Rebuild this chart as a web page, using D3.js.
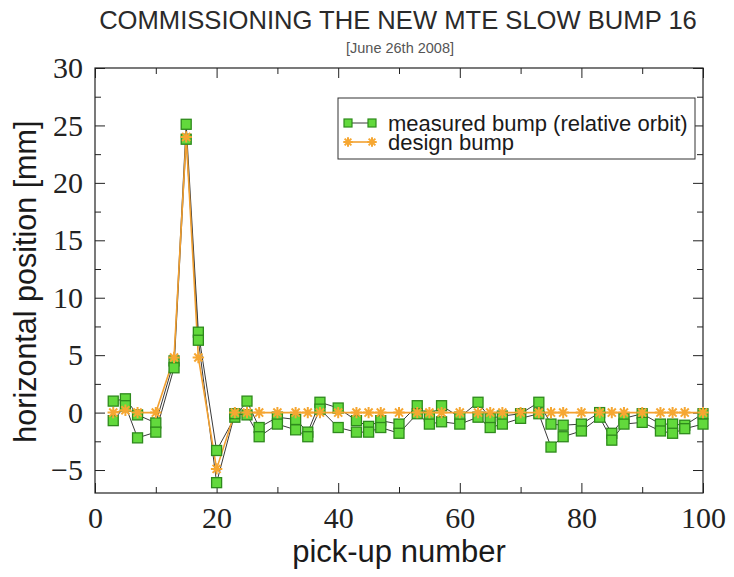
<!DOCTYPE html>
<html>
<head>
<meta charset="utf-8">
<script src="https://cdn.jsdelivr.net/npm/d3@7"></script>
<style>
  body { margin: 0; background: #fff; }
  svg { display: block; }
  .tick-label { font-family: "Liberation Serif", "Times New Roman", serif; font-size: 30px; fill: #222; }
</style>
</head>
<body>
<div id="chart"></div>
<script>
// pick-up numbers where beam position monitors sit
const pickups = [3, 5, 7, 10, 13, 15, 17, 20, 23, 25, 27, 30, 33, 35, 37, 40, 43, 45, 47, 50,
                 53, 55, 57, 60, 63, 65, 67, 70, 73, 75, 77, 80, 83, 85, 87, 90, 93, 95, 97, 100];

// two acquisitions of the measured bump (relative orbit), mm
const measuredRun1 = [1.0, 1.2, -0.2, -0.9, 4.5, 25.1, 7.0, -3.3, -0.4, 1.0,
                      -1.3, -0.4, -0.6, -1.7, 0.9, 0.4, -0.7, -1.2, -0.7, -1.0,
                      0.6, -0.3, 0.6, -0.4, 0.9, -0.5, -0.3, -0.1, 0.9, -1.0,
                      -1.1, -1.0, 0.0, -1.8, -0.5, -0.1, -1.0, -1.0, -1.1, -0.1];
const measuredRun2 = [-0.7, 0.6, -2.2, -1.7, 3.9, 23.8, 6.3, -6.1, -0.1, -0.2,
                      -2.1, -1.0, -1.5, -2.1, 0.3, -1.3, -1.7, -1.7, -1.3, -1.8,
                      -0.1, -1.0, -0.8, -1.0, -0.4, -1.3, -1.0, -0.5, -0.1, -3.0,
                      -2.1, -1.6, -0.4, -2.4, -1.0, -0.85, -1.6, -1.8, -1.4, -1.0];

// design bump, mm
const designBump = [0, 0.2, 0, 0, 4.8, 24.0, 4.8, -4.9, 0, 0,
                    0, 0, 0, 0, 0, 0, 0, 0, 0, 0,
                    0, 0, 0, 0, 0, 0, 0, 0, 0, 0,
                    0, 0, 0, 0, 0, 0, 0, 0, 0, 0];

const xMajorTicks = [0, 20, 40, 60, 80, 100];
const xMinorTicks = [10, 30, 50, 70, 90];
const yMajorTicks = [-5, 0, 5, 10, 15, 20, 25, 30];
const yMinorTicks = [-2.5, 2.5, 7.5, 12.5, 17.5, 22.5, 27.5];

const legendLabels = ['measured bump (relative orbit)', 'design bump'];

const W = 734, H = 577;
const margin = { top: 68, right: 31, bottom: 84, left: 95 };
const width = W - margin.left - margin.right;
const height = H - margin.top - margin.bottom;

const svg = d3.select('#chart').append('svg')
    .attr('width', W)
    .attr('height', H);

const g = svg.append('g')
    .attr('transform', `translate(${margin.left},${margin.top})`);

const x = d3.scaleLinear().domain([0, 100]).range([0, width]);
const y = d3.scaleLinear().domain([-7, 30]).range([height, 0]);

// Title
svg.append('text')
    .attr('x', 398).attr('y', 29)
    .attr('text-anchor', 'middle')
    .style('font-family', '"Liberation Sans", Arial, sans-serif')
    .style('font-size', '25.6px')
    .style('fill', '#2a2a2a')
    .text('COMMISSIONING THE NEW MTE SLOW BUMP 16');

svg.append('text')
    .attr('x', 400).attr('y', 53)
    .attr('text-anchor', 'middle')
    .style('font-family', '"Liberation Sans", Arial, sans-serif')
    .style('font-size', '14.5px')
    .style('fill', '#555')
    .text('[June 26th 2008]');

// Axes, ticks pointing inward on all four sides
function styleAxis(sel, labels) {
    sel.select('.domain').remove();
    sel.selectAll('line').attr('stroke', '#222');
    if (!labels) sel.selectAll('text').remove();
    else sel.selectAll('text').attr('class', 'tick-label');
}

g.append('g').attr('transform', `translate(0,${height})`)
    .call(d3.axisBottom(x).tickValues(xMajorTicks).tickSize(-10).tickPadding(14).tickFormat(d3.format('d')))
    .call(s => styleAxis(s, true));
g.append('g').attr('transform', `translate(0,${height})`)
    .call(d3.axisBottom(x).tickValues(xMinorTicks).tickSize(-6))
    .call(s => styleAxis(s, false));
g.append('g')
    .call(d3.axisTop(x).tickValues(xMajorTicks).tickSize(-10))
    .call(s => styleAxis(s, false));
g.append('g')
    .call(d3.axisTop(x).tickValues(xMinorTicks).tickSize(-6))
    .call(s => styleAxis(s, false));

g.append('g')
    .call(d3.axisLeft(y).tickValues(yMajorTicks).tickSize(-10).tickPadding(12).tickFormat(d3.format('d')))
    .call(s => styleAxis(s, true));
g.append('g')
    .call(d3.axisLeft(y).tickValues(yMinorTicks).tickSize(-6))
    .call(s => styleAxis(s, false));
g.append('g').attr('transform', `translate(${width},0)`)
    .call(d3.axisRight(y).tickValues(yMajorTicks).tickSize(-10))
    .call(s => styleAxis(s, false));
g.append('g').attr('transform', `translate(${width},0)`)
    .call(d3.axisRight(y).tickValues(yMinorTicks).tickSize(-6))
    .call(s => styleAxis(s, false));

// Frame
g.append('rect')
    .attr('width', width).attr('height', height)
    .attr('fill', 'none').attr('stroke', '#222').attr('stroke-width', 1.2);

// Axis labels
g.append('text')
    .attr('x', x(50)).attr('y', height + 69)
    .attr('text-anchor', 'middle')
    .style('font-family', '"Liberation Sans", Arial, sans-serif')
    .style('font-size', '31px')
    .style('fill', '#1a1a1a')
    .text('pick-up number');

g.append('text')
    .attr('transform', 'rotate(-90)')
    .attr('x', -(y(11.4))).attr('y', -59)
    .attr('text-anchor', 'middle')
    .style('font-family', '"Liberation Sans", Arial, sans-serif')
    .style('font-size', '30.5px')
    .style('fill', '#1a1a1a')
    .text('horizontal position [mm]');

// Asterisk marker for the design bump
const asterisk = {
    draw(ctx, size) {
        const r = Math.sqrt(size) / 2;
        for (let k = 0; k < 4; k++) {
            const a = k * Math.PI / 4;
            ctx.moveTo(-r * Math.cos(a), -r * Math.sin(a));
            ctx.lineTo(r * Math.cos(a), r * Math.sin(a));
        }
    }
};

const greenFill = '#62d93c', greenEdge = '#2e8a1c';
const orange = '#f6a732', orangeLine = '#f2a030';

const plot = g.append('g');
const line = d3.line().x((d, i) => x(pickups[i])).y(d => y(d));

// measured traces
[measuredRun1, measuredRun2].forEach(run => {
    plot.append('path')
        .datum(run)
        .attr('fill', 'none')
        .attr('stroke', '#3a3a3a')
        .attr('stroke-width', 1)
        .attr('d', line);
});

// design line
plot.append('path')
    .datum(designBump)
    .attr('fill', 'none')
    .attr('stroke', orangeLine)
    .attr('stroke-width', 1.6)
    .attr('d', line);

[measuredRun1, measuredRun2].forEach(run => {
    plot.selectAll(null)
        .data(run)
        .enter()
        .append('rect')
        .attr('x', (d, i) => x(pickups[i]) - 5)
        .attr('y', d => y(d) - 5)
        .attr('width', 10)
        .attr('height', 10)
        .attr('fill', greenFill)
        .attr('stroke', greenEdge)
        .attr('stroke-width', 1.3);
});

plot.selectAll('.star')
    .data(designBump)
    .enter()
    .append('path')
    .attr('class', 'star')
    .attr('transform', (d, i) => `translate(${x(pickups[i])},${y(d)})`)
    .attr('d', d3.symbol().type(asterisk).size(130))
    .attr('fill', 'none')
    .attr('stroke', orange)
    .attr('stroke-width', 2);

// Legend
const legend = svg.append('g').attr('transform', 'translate(338,98)');
legend.append('rect')
    .attr('width', 357).attr('height', 61)
    .attr('fill', '#fff').attr('stroke', '#333').attr('stroke-width', 1);

const row1 = legend.append('g').attr('transform', 'translate(0,25)');
row1.append('line').attr('x1', 10).attr('x2', 34).attr('stroke', '#3a3a3a');
[10, 34].forEach(cx => {
    row1.append('rect')
        .attr('x', cx - 4).attr('y', -4).attr('width', 8).attr('height', 8)
        .attr('fill', greenFill).attr('stroke', greenEdge).attr('stroke-width', 1.2);
});
row1.append('text')
    .attr('x', 50).attr('y', 0).attr('dy', '0.35em')
    .style('font-family', '"Liberation Sans", Arial, sans-serif')
    .style('font-size', '22px')
    .style('fill', '#1a1a1a')
    .text(legendLabels[0]);

const row2 = legend.append('g').attr('transform', 'translate(0,44)');
row2.append('line').attr('x1', 10).attr('x2', 34).attr('stroke', orangeLine).attr('stroke-width', 1.6);
[10, 34].forEach(cx => {
    row2.append('path')
        .attr('transform', `translate(${cx},0)`)
        .attr('d', d3.symbol().type(asterisk).size(90))
        .attr('fill', 'none').attr('stroke', orange).attr('stroke-width', 2);
});
row2.append('text')
    .attr('x', 50).attr('y', 0).attr('dy', '0.35em')
    .style('font-family', '"Liberation Sans", Arial, sans-serif')
    .style('font-size', '22px')
    .style('fill', '#1a1a1a')
    .text(legendLabels[1]);
</script>
</body>
</html>
